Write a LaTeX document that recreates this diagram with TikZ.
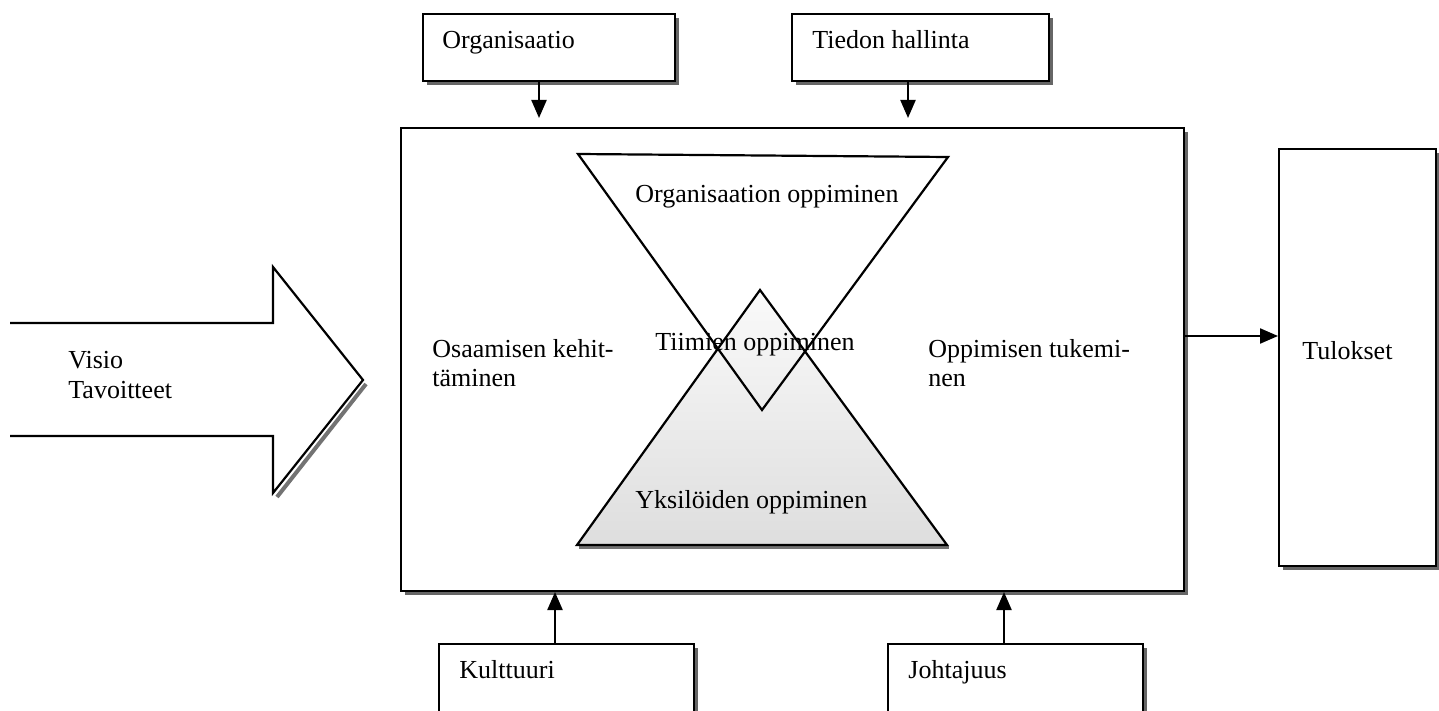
\documentclass[tikz,border=0pt]{standalone}
\usepackage{fontspec}
\setmainfont{Liberation Serif}
\usetikzlibrary{arrows.meta,shadows}

\begin{document}
\begin{tikzpicture}[x=0.5pt,y=-0.5pt,
  every node/.style={font=\fontsize{13pt}{15pt}\selectfont},
  panel/.style={draw=black,line width=1pt,fill=white,anchor=north west,inner sep=0pt,
    drop shadow={shadow xshift=2pt,shadow yshift=-2pt,fill=black!60,opacity=1}},
  label/.style={anchor=base west,inner sep=0pt},
  arr/.style={line width=1.1pt,-{Triangle[length=9pt,width=7.5pt]}},
  outline/.style={line width=1.1pt,line join=miter}
]
\useasboundingbox (0,0) rectangle (1439,711);
\clip (0,0) rectangle (1439,711);

% central frame and the results box
\node[panel,minimum width=391.5pt,minimum height=231.5pt] (main) at (400,127) {};
\node[panel,minimum width=78.5pt,minimum height=208.5pt] (tul) at (1278,148) {};

% factor boxes above and below
\node[panel,minimum width=126pt,minimum height=33.5pt] (org) at (422,13) {};
\node[panel,minimum width=128.5pt,minimum height=33.5pt] (tie) at (791,13) {};
\node[panel,minimum width=127.5pt,minimum height=36.5pt] (kul) at (438,643) {};
\node[panel,minimum width=127.5pt,minimum height=36.5pt] (joh) at (887,643) {};

\node[label] (torg) at (442,49) {Organisaatio};
\node[label] (ttie) at (812,49) {Tiedon hallinta};
\node[label] (tkul) at (459,678) {Kulttuuri};
\node[label] (tjoh) at (908,678) {Johtajuus};
\node[label] (ttul) at (1302,359) {Tulokset};

% connectors
\coordinate (orgx) at ([xshift=58.5pt]org.south west);
\coordinate (tiex) at ([xshift=58.5pt]tie.south west);
\coordinate (kulx) at ([xshift=58.5pt]kul.north west);
\coordinate (johx) at ([xshift=58.5pt]joh.north west);
\draw[arr,shorten >=4.5pt] (orgx) -- (orgx |- main.north);
\draw[arr,shorten >=4.5pt] (tiex) -- (tiex |- main.north);
\draw[arr] (kulx) -- (kulx |- main.south);
\draw[arr] (johx) -- (johx |- main.south);
\coordinate (mout) at ([yshift=11.75pt]main.east);
\draw[arr] (mout) -- (mout -| tul.west);

% hourglass of the learning levels
\coordinate (ta) at (578,154);
\coordinate (tb) at (948,157);
\coordinate (tc) at (762,410);
\coordinate (ba) at (577,545);
\coordinate (bb) at (947,545);
\coordinate (bc) at (760,290);
\fill[white] (ta) -- (tb) -- (tc) -- cycle;
\shade[top color=black!2,bottom color=black!13] (ba) -- (bb) -- (bc) -- cycle;
\draw[black!55,line width=1.5pt] ([xshift=1pt,yshift=-1pt]ba) -- ([xshift=1pt,yshift=-1pt]bb);
\draw[outline] (ta) -- (tb) -- (tc) -- cycle;
\draw[outline] (ba) -- (bb) -- (bc) -- cycle;

\node[label] at (635,203) {Organisaation oppiminen};
\node[label] at (655,350) {Tiimien oppiminen};
\node[label] at (635,508) {Yksilöiden oppiminen};
\node[label] at (432,357) {Osaamisen kehit-};
\node[label] at (432,386) {täminen};
\node[label] at (928,357) {Oppimisen tukemi-};
\node[label] at (928,386) {nen};

% broad input arrow on the left
\draw[black!55,line width=2pt] (366,384) -- (277,497);
\draw[outline] (10,323) -- (273,323) -- (273,267) -- (363,380) -- (273,493) -- (273,436) -- (10,436);
\node[label] at (68,368) {Visio};
\node[label] at (68,398) {Tavoitteet};
\end{tikzpicture}
\end{document}
